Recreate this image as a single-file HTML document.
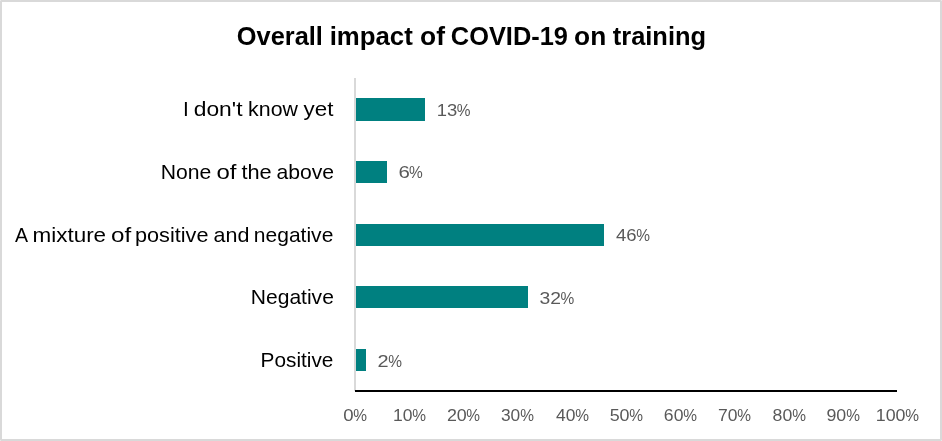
<!DOCTYPE html>
<html lang="en"><head><meta charset="utf-8"><title>Overall impact of COVID-19 on training</title>
<style>
html,body{margin:0;padding:0;background:#fff}
body{width:942px;height:441px;overflow:hidden}
svg{display:block}
text{font-family:"Liberation Sans",Arial,Helvetica,sans-serif;white-space:pre}
.t{font-size:25px;font-weight:bold;fill:#000}
.c{font-size:20.8px;fill:#000}
.d{font-size:16.8px;fill:#595959}
</style></head><body>
<svg width="942" height="441" viewBox="0 0 942 441">
<rect x="0" y="0" width="942" height="441" fill="#fff"/>
<rect x="1" y="1" width="940" height="439" fill="none" stroke="#d9d9d9" stroke-width="2"/>
<g fill="#e8e8e8"><rect x="0" y="0" width="1" height="1"/><rect x="941" y="0" width="1" height="1"/><rect x="0" y="440" width="1" height="1"/><rect x="941" y="440" width="1" height="1"/></g>
<rect x="354" y="78" width="2" height="313" fill="#d9d9d9"/>
<g fill="#008080">
<rect x="356" y="98" width="69" height="23"/>
<rect x="356" y="161" width="31" height="22"/>
<rect x="356" y="224" width="248" height="22"/>
<rect x="356" y="286" width="172" height="22"/>
<rect x="356" y="349" width="10" height="22"/>
</g>
<rect x="355" y="390" width="542" height="2" fill="#000"/>

<text class="t" y="44.60"><tspan x="236.82" textLength="86.09" lengthAdjust="spacingAndGlyphs">Overall</tspan> <tspan x="329.65" textLength="83.10" lengthAdjust="spacingAndGlyphs">impact</tspan> <tspan x="420.14" textLength="24.87" lengthAdjust="spacingAndGlyphs">of</tspan> <tspan x="450.82" textLength="117.15" lengthAdjust="spacingAndGlyphs">COVID-19</tspan> <tspan x="574.08" textLength="32.11" lengthAdjust="spacingAndGlyphs">on</tspan> <tspan x="612.77" textLength="93.27" lengthAdjust="spacingAndGlyphs">training</tspan></text>
<text class="c" y="116.10"><tspan x="183.08">I</tspan> <tspan x="193.69" textLength="48.80" lengthAdjust="spacingAndGlyphs">don't</tspan> <tspan x="248.14" textLength="49.83" lengthAdjust="spacingAndGlyphs">know</tspan> <tspan x="303.58" textLength="29.82" lengthAdjust="spacingAndGlyphs">yet</tspan></text>
<text class="c" y="179.10"><tspan x="160.67" textLength="50.54" lengthAdjust="spacingAndGlyphs">None</tspan> <tspan x="216.50" textLength="20.02" lengthAdjust="spacingAndGlyphs">of</tspan> <tspan x="241.44" textLength="30.29" lengthAdjust="spacingAndGlyphs">the</tspan> <tspan x="276.44" textLength="57.71" lengthAdjust="spacingAndGlyphs">above</tspan></text>
<text class="c" y="242.10"><tspan x="15.11" textLength="11.99" lengthAdjust="spacingAndGlyphs">A</tspan> <tspan x="32.49" textLength="73.62" lengthAdjust="spacingAndGlyphs">mixture</tspan> <tspan x="110.99" textLength="20.19" lengthAdjust="spacingAndGlyphs">of</tspan> <tspan x="135.02" textLength="73.41" lengthAdjust="spacingAndGlyphs">positive</tspan> <tspan x="213.50" textLength="35.87" lengthAdjust="spacingAndGlyphs">and</tspan> <tspan x="253.88" textLength="79.45" lengthAdjust="spacingAndGlyphs">negative</tspan></text>
<text class="c" y="304.20"><tspan x="250.79" textLength="83.08" lengthAdjust="spacingAndGlyphs">Negative</tspan></text>
<text class="c" y="367.10"><tspan x="260.61" textLength="72.76" lengthAdjust="spacingAndGlyphs">Positive</tspan></text>
<text class="d" y="115.70"><tspan x="436.69" textLength="20.50" lengthAdjust="spacingAndGlyphs">13</tspan><tspan x="456.68" textLength="13.74" lengthAdjust="spacingAndGlyphs">%</tspan></text>
<text class="d" y="178.45"><tspan x="398.48" textLength="11.36" lengthAdjust="spacingAndGlyphs">6</tspan><tspan x="409.11" textLength="13.74" lengthAdjust="spacingAndGlyphs">%</tspan></text>
<text class="d" y="241.20"><tspan x="615.96" textLength="20.61" lengthAdjust="spacingAndGlyphs">46</tspan><tspan x="636.13" textLength="13.74" lengthAdjust="spacingAndGlyphs">%</tspan></text>
<text class="d" y="303.95"><tspan x="539.52" textLength="21.48" lengthAdjust="spacingAndGlyphs">32</tspan><tspan x="560.44" textLength="13.74" lengthAdjust="spacingAndGlyphs">%</tspan></text>
<text class="d" y="366.70"><tspan x="377.62" textLength="11.09" lengthAdjust="spacingAndGlyphs">2</tspan><tspan x="388.13" textLength="13.74" lengthAdjust="spacingAndGlyphs">%</tspan></text>
<text class="d" y="421.20"><tspan x="343.21" textLength="10.36" lengthAdjust="spacingAndGlyphs">0</tspan><tspan x="353.13" textLength="13.74" lengthAdjust="spacingAndGlyphs">%</tspan></text>
<text class="d" y="421.20"><tspan x="392.92" textLength="19.48" lengthAdjust="spacingAndGlyphs">10</tspan><tspan x="412.14" textLength="13.74" lengthAdjust="spacingAndGlyphs">%</tspan></text>
<text class="d" y="421.20"><tspan x="446.90" textLength="19.88" lengthAdjust="spacingAndGlyphs">20</tspan><tspan x="466.28" textLength="13.73" lengthAdjust="spacingAndGlyphs">%</tspan></text>
<text class="d" y="421.20"><tspan x="500.95" textLength="19.28" lengthAdjust="spacingAndGlyphs">30</tspan><tspan x="520.14" textLength="13.74" lengthAdjust="spacingAndGlyphs">%</tspan></text>
<text class="d" y="421.20"><tspan x="556.11" textLength="19.41" lengthAdjust="spacingAndGlyphs">40</tspan><tspan x="575.13" textLength="13.74" lengthAdjust="spacingAndGlyphs">%</tspan></text>
<text class="d" y="421.20"><tspan x="609.67" textLength="19.92" lengthAdjust="spacingAndGlyphs">50</tspan><tspan x="629.13" textLength="13.74" lengthAdjust="spacingAndGlyphs">%</tspan></text>
<text class="d" y="421.20"><tspan x="663.87" textLength="19.54" lengthAdjust="spacingAndGlyphs">60</tspan><tspan x="683.13" textLength="13.74" lengthAdjust="spacingAndGlyphs">%</tspan></text>
<text class="d" y="421.20"><tspan x="717.92" textLength="19.49" lengthAdjust="spacingAndGlyphs">70</tspan><tspan x="737.13" textLength="13.74" lengthAdjust="spacingAndGlyphs">%</tspan></text>
<text class="d" y="421.20"><tspan x="772.63" textLength="19.67" lengthAdjust="spacingAndGlyphs">80</tspan><tspan x="792.14" textLength="13.74" lengthAdjust="spacingAndGlyphs">%</tspan></text>
<text class="d" y="421.20"><tspan x="826.48" textLength="19.80" lengthAdjust="spacingAndGlyphs">90</tspan><tspan x="846.14" textLength="13.74" lengthAdjust="spacingAndGlyphs">%</tspan></text>
<text class="d" y="421.20"><tspan x="875.79" textLength="29.74" lengthAdjust="spacingAndGlyphs">100</tspan><tspan x="905.13" textLength="13.74" lengthAdjust="spacingAndGlyphs">%</tspan></text>
</svg>
</body></html>
